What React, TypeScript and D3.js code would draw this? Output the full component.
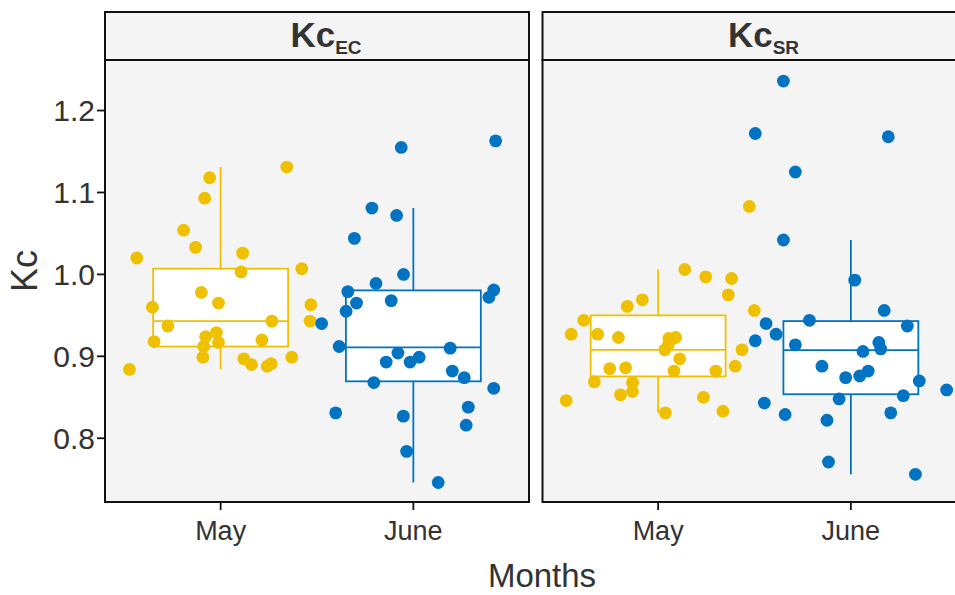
import React from "react";
import * as d3 from "d3";

// Crop coefficient per month, for two estimation methods (EC and SR)
const months = ["May", "June"];
const methods = ["EC", "SR"];
const yTicks = [0.8, 0.9, 1.0, 1.1, 1.2];

// Kc values; jitter offsets are given as fractions of the category step
const ecMayKc = [1.131, 1.118, 1.093, 1.054, 1.033, 1.020, 1.026, 1.007, 1.003, 0.978, 0.965, 0.960, 0.963, 0.937, 0.943, 0.943, 0.918, 0.924, 0.929, 0.917, 0.912, 0.920, 0.899, 0.897, 0.890, 0.888, 0.891, 0.899, 0.884];
const ecMayJit = [0.343, -0.057, -0.083, -0.192, -0.130, -0.435, 0.114, 0.421, 0.106, -0.100, -0.011, -0.354, 0.468, -0.274, 0.464, 0.266, -0.345, -0.078, -0.022, -0.011, -0.088, 0.214, -0.092, 0.120, 0.160, 0.242, 0.262, 0.369, -0.473];

const ecJuneKc = [1.163, 1.155, 1.081, 1.072, 1.044, 1.000, 0.989, 0.979, 0.981, 0.972, 0.965, 0.968, 0.955, 0.940, 0.912, 0.904, 0.910, 0.893, 0.893, 0.899, 0.882, 0.874, 0.868, 0.861, 0.831, 0.827, 0.838, 0.816, 0.784, 0.746];
const ecJuneJit = [0.427, -0.063, -0.215, -0.087, -0.306, -0.051, -0.194, -0.340, 0.417, 0.392, -0.295, -0.115, -0.349, -0.476, -0.385, -0.080, 0.191, -0.141, -0.017, 0.030, 0.202, 0.264, -0.205, 0.417, -0.403, -0.052, 0.285, 0.274, -0.035, 0.129];

const srMayKc = [1.083, 1.006, 0.997, 0.995, 0.975, 0.969, 0.961, 0.956, 0.944, 0.927, 0.927, 0.923, 0.922, 0.923, 0.914, 0.908, 0.908, 0.897, 0.885, 0.886, 0.882, 0.882, 0.888, 0.869, 0.868, 0.857, 0.853, 0.846, 0.850, 0.831, 0.833];
const srMayJit = [0.473, 0.138, 0.247, 0.381, 0.364, -0.082, -0.160, 0.499, -0.386, -0.451, -0.314, -0.206, 0.056, 0.091, 0.053, 0.035, 0.435, 0.112, -0.251, -0.169, 0.082, 0.299, 0.400, -0.331, -0.133, -0.133, -0.195, -0.477, 0.235, 0.038, 0.336];

const srJuneKc = [1.236, 1.172, 1.168, 1.125, 1.042, 0.993, 0.956, 0.940, 0.944, 0.937, 0.927, 0.919, 0.914, 0.917, 0.909, 0.906, 0.888, 0.882, 0.876, 0.874, 0.870, 0.859, 0.848, 0.852, 0.843, 0.829, 0.822, 0.831, 0.771, 0.756];
const srJuneJit = [-0.350, -0.496, 0.194, -0.288, -0.350, 0.020, 0.173, -0.440, -0.215, 0.293, -0.388, -0.496, -0.288, 0.145, 0.155, 0.063, -0.150, 0.090, 0.046, -0.027, 0.355, 0.497, -0.061, 0.272, -0.449, -0.341, -0.124, 0.207, -0.116, 0.335];

const monthColors = ["#EFC000", "#0073C2"];

const panelData = [
  [
    { kc: ecMayKc, jit: ecMayJit },
    { kc: ecJuneKc, jit: ecJuneJit },
  ],
  [
    { kc: srMayKc, jit: srMayJit },
    { kc: srJuneKc, jit: srJuneJit },
  ],
];

const W = 955;
const H = 595;
const FONT = "'Liberation Sans', Arial, Helvetica, sans-serif";

const stripTop = 12;
const panelTop = 60;
const panelBottom = 502;
const panelW = 424;
const panelX0 = [105, 542.5];

const y = d3.scaleLinear().domain([0.7222, 1.2617]).range([panelBottom, panelTop]);

function boxStats(values: number[]) {
  const s = values.slice().sort(d3.ascending);
  const q1 = d3.quantile(s, 0.25) as number;
  const med = d3.quantile(s, 0.5) as number;
  const q3 = d3.quantile(s, 0.75) as number;
  const iqr = q3 - q1;
  const lo = d3.min(s.filter((v) => v >= q1 - 1.5 * iqr)) as number;
  const hi = d3.max(s.filter((v) => v <= q3 + 1.5 * iqr)) as number;
  return { q1, med, q3, lo, hi };
}

function Panel({ idx }: { idx: number }) {
  const x0 = panelX0[idx];
  const x = d3.scalePoint<string>().domain(months).range([x0, x0 + panelW]).padding(0.6);
  const step = x.step();
  const boxW = step * 0.7;
  const cx = (x0 + x0 + panelW) / 2;

  return (
    <g>
      {/* strip */}
      <rect x={x0} y={stripTop} width={panelW} height={panelTop - stripTop} fill="#F3F4F3" stroke="#111" strokeWidth={2} />
      <text x={cx + 9} y={46.7} textAnchor="middle" fontFamily={FONT} fontWeight="bold" fill="#333" fontSize={35}>
        <tspan>Kc</tspan>
        <tspan fontSize={19} dy={7}>{methods[idx]}</tspan>
      </text>

      {/* panel background */}
      <rect x={x0} y={panelTop} width={panelW} height={panelBottom - panelTop} fill="#F4F4F4" />

      {/* boxes */}
      {months.map((m, mi) => {
        const st = boxStats(panelData[idx][mi].kc);
        const c = x(m) as number;
        const col = monthColors[mi];
        return (
          <g key={m}>
            <line x1={c} x2={c} y1={y(st.hi)} y2={y(st.q3)} stroke={col} strokeWidth={1.8} />
            <line x1={c} x2={c} y1={y(st.q1)} y2={y(st.lo)} stroke={col} strokeWidth={1.8} />
            <rect x={c - boxW / 2} y={y(st.q3)} width={boxW} height={y(st.q1) - y(st.q3)} fill="#FFFFFF" stroke={col} strokeWidth={1.8} />
            <line x1={c - boxW / 2} x2={c + boxW / 2} y1={y(st.med)} y2={y(st.med)} stroke={col} strokeWidth={1.8} />
          </g>
        );
      })}

      {/* jittered observations */}
      {months.map((m, mi) => {
        const d = panelData[idx][mi];
        const c = x(m) as number;
        return (
          <g key={m + "-pts"}>
            {d.kc.map((v, i) => (
              <circle key={i} cx={c + d.jit[i] * step} cy={y(v)} r={6.4} fill={monthColors[mi]} />
            ))}
          </g>
        );
      })}

      {/* panel border */}
      <rect x={x0} y={panelTop} width={panelW} height={panelBottom - panelTop} fill="none" stroke="#111" strokeWidth={2} />

      {/* x axis */}
      {months.map((m) => (
        <g key={m + "-tick"}>
          <line x1={x(m)} x2={x(m)} y1={panelBottom} y2={panelBottom + 8} stroke="#111" strokeWidth={1.8} />
          <text x={x(m)} y={540} textAnchor="middle" fontFamily={FONT} fontSize={27} fill="#333">
            {m}
          </text>
        </g>
      ))}
    </g>
  );
}

export default function App() {
  return (
    <div style={{ position: "absolute", left: 0, top: 0 }}>
      <svg width={W} height={H} viewBox={`0 0 ${W} ${H}`} style={{ display: "block", background: "#FFFFFF" }}>
        <Panel idx={0} />
        <Panel idx={1} />

        {/* y axis */}
        {yTicks.map((t) => (
          <g key={t}>
            <line x1={97} x2={105} y1={y(t)} y2={y(t)} stroke="#111" strokeWidth={1.8} />
            <text x={95} y={y(t)} dy="0.36em" textAnchor="end" fontFamily={FONT} fontSize={30} fill="#333">
              {d3.format(".1f")(t)}
            </text>
          </g>
        ))}

        <text transform={`translate(36.5, ${(panelTop + panelBottom) / 2 - 10}) rotate(-90)`} textAnchor="middle" fontFamily={FONT} fontSize={36} fill="#333">
          Kc
        </text>
        <text x={542} y={587} textAnchor="middle" fontFamily={FONT} fontSize={33} fill="#333">
          Months
        </text>
      </svg>
    </div>
  );
}
